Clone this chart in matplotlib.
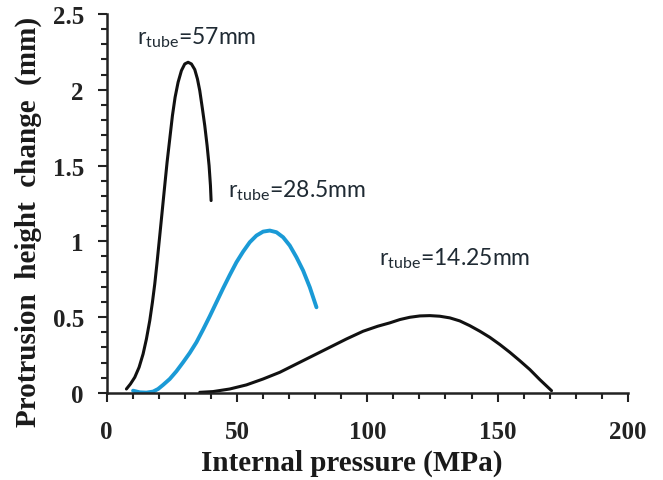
import matplotlib
matplotlib.use("Agg")
import matplotlib.pyplot as plt
from matplotlib.ticker import MultipleLocator

# Data
p_57 = [7.55, 9.09, 10.75, 12.41, 13.95, 15.23, 16.51, 17.53, 18.43, 19.32, 20.35, 21.37, 22.26,
        23.16, 24.18, 25.21, 26.23, 27.38, 28.66, 29.94, 31.22, 32.50, 33.78, 34.81, 35.70, 36.73,
        37.62, 38.52, 39.28, 39.80, 40.05]
h_57 = [0.026, 0.059, 0.103, 0.169, 0.257, 0.356, 0.477, 0.598, 0.719, 0.862, 1.038, 1.214, 1.368,
        1.522, 1.675, 1.829, 1.950, 2.049, 2.126, 2.170, 2.181, 2.170, 2.133, 2.071, 1.994, 1.873,
        1.763, 1.631, 1.499, 1.368, 1.269]

p_285 = [10.11, 12.67, 15.23, 17.79, 19.70, 21.62, 24.18, 26.74, 29.30, 31.86, 34.42, 36.98, 39.54,
         42.10, 44.66, 47.22, 49.78, 52.33, 54.89, 57.45, 60.01, 62.57, 65.13, 67.69, 70.25, 72.81,
         75.37, 77.93, 80.49]
h_285 = [0.015, 0.004, 0.002, 0.009, 0.026, 0.053, 0.092, 0.143, 0.202, 0.264, 0.334, 0.418, 0.506,
         0.598, 0.690, 0.778, 0.862, 0.932, 0.994, 1.038, 1.064, 1.071, 1.060, 1.027, 0.972, 0.895,
         0.807, 0.697, 0.565]

p_1425 = [35.7, 40.8, 47.2, 53.6, 60.0, 66.4, 72.8, 79.2, 85.6, 92.0, 98.4, 104.0, 108.6, 112.5,
          116.3, 120.2, 124.0, 127.8, 131.7, 135.5, 139.3, 143.2, 147.0, 150.9, 154.7, 158.5, 162.4,
          166.2, 170.7]
h_1425 = [0.004, 0.009, 0.026, 0.053, 0.092, 0.136, 0.191, 0.246, 0.301, 0.356, 0.407, 0.440, 0.462,
          0.484, 0.499, 0.508, 0.510, 0.506, 0.495, 0.475, 0.444, 0.407, 0.367, 0.319, 0.268, 0.213,
          0.154, 0.088, 0.015]

labels = ["57", "28.5", "14.25"]
x_ticks = [0, 50, 100, 150, 200]
y_ticks = [0, 0.5, 1, 1.5, 2, 2.5]
y_tick_labels = ['0', '0.5', '1', '1.5', '2', '2.5']

plt.rcParams['mathtext.fontset'] = 'custom'
plt.rcParams['mathtext.rm'] = 'Lato'

fig = plt.figure(figsize=(6.63, 4.81), dpi=100)
ax = fig.add_axes([0.161, 0.181, 0.786, 0.788])

ax.plot(p_57, h_57, color='#111111', lw=2.2, solid_capstyle='round', solid_joinstyle='round')
ax.plot(p_285, h_285, color='#1a9ad6', lw=2.8, solid_capstyle='round', solid_joinstyle='round')
ax.plot(p_1425, h_1425, color='#111111', lw=2.2, solid_capstyle='round', solid_joinstyle='round')

ax.set_xlim(0, 200)
ax.set_ylim(0, 2.5)
ax.set_xticks(x_ticks)
ax.set_yticks(y_ticks)
ax.set_xticklabels([str(v) for v in x_ticks])
ax.set_yticklabels(y_tick_labels)
ax.xaxis.set_minor_locator(MultipleLocator(10))
ax.yaxis.set_minor_locator(MultipleLocator(0.1))

for s in ['top', 'right']:
    ax.spines[s].set_visible(False)
for s in ['left', 'bottom']:
    ax.spines[s].set_linewidth(1.8)
    ax.spines[s].set_color('#222222')

ax.tick_params(which='major', direction='out', length=6.5, width=1.5, color='#222222')
ax.tick_params(which='minor', direction='out', length=4.5, width=1.5, color='#222222')
ax.tick_params(axis='x', which='major', pad=13)
ax.tick_params(axis='y', which='major', pad=10)

for lab in ax.get_xticklabels() + ax.get_yticklabels():
    lab.set_fontfamily('Liberation Serif')
    lab.set_fontweight('bold')
    lab.set_fontsize(18)
    lab.set_color('#222222')

ax.set_xlabel('Internal pressure (MPa)', fontfamily='Liberation Serif', fontweight='bold',
              fontsize=21, color='#1a1a1a')
ax.xaxis.set_label_coords(0.470, -0.148)
ax.set_ylabel('Protrusion  height  change  (mm)', fontfamily='Liberation Serif', fontweight='bold',
              fontsize=21, color='#1a1a1a')
ax.yaxis.set_label_coords(-0.125, 0.4525)

tkw = dict(fontfamily='Lato', fontsize=16.5, color='#1f2a33', va='center', ha='left')
ax.text(11.5, 2.35, r'r$_{\mathrm{tube}}$=' + labels[0] + 'mm', **tkw)
ax.text(46.5, 1.34, r'r$_{\mathrm{tube}}$=' + labels[1] + 'mm', **tkw)
ax.text(104.5, 0.89, r'r$_{\mathrm{tube}}$=' + labels[2] + 'mm', **tkw)

fig.savefig('out.png', dpi=100)
